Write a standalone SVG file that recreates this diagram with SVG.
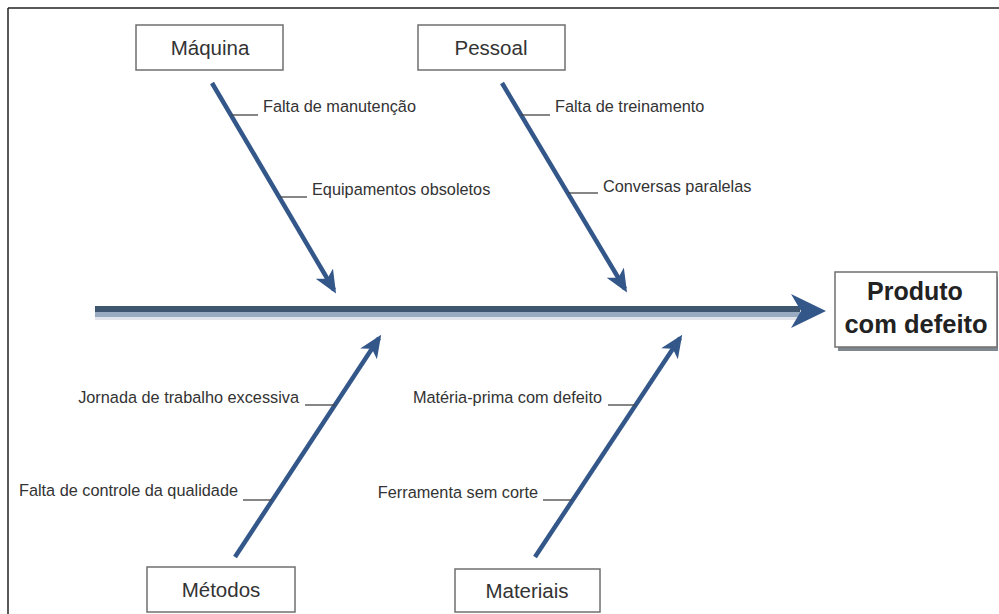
<svg xmlns="http://www.w3.org/2000/svg" width="999" height="614" viewBox="0 0 999 614">
<defs>
<style>
.box{fill:#fff;stroke:#6f6f6f;stroke-width:1.5}
.lbl{font-family:"Liberation Sans",Arial,sans-serif;font-size:20.5px;fill:#333;text-anchor:middle}
.cause{font-family:"Liberation Sans",Arial,sans-serif;font-size:16.3px;fill:#333}
.tick{stroke:#444;stroke-width:1.3}
.bone{stroke:#34578a;stroke-width:4.5;fill:none;marker-end:url(#head)}
.frame{stroke:#222;stroke-width:1.5}
</style>
<marker id="head" markerUnits="userSpaceOnUse" markerWidth="26" markerHeight="22" refX="19" refY="10" orient="auto" viewBox="0 0 26 22">
<path d="M0,0 L23,10 L0,20 L6,10 Z" fill="#34578a"/>
</marker>
</defs>
<rect x="0" y="0" width="999" height="614" fill="#fff"/>
<g id="frame">
<line class="frame" x1="8" y1="8" x2="999" y2="8"/>
<line class="frame" x1="8" y1="8" x2="8" y2="614"/>
</g>
<g id="connectors">
<rect x="95" y="317" width="705" height="3" fill="#e2e6eb"/>
<rect x="95" y="306" width="705" height="6" fill="#3e5670"/>
<rect x="95" y="312" width="705" height="5" fill="#98abc1"/>
<polygon points="791,294 826,311 791,328 801,311" fill="#34578a"/>
<line class="bone" x1="212" y1="83" x2="334" y2="290"/>
<line class="bone" x1="502" y1="83" x2="625" y2="289"/>
<line class="bone" x1="235" y1="557" x2="379" y2="338"/>
<line class="bone" x1="535" y1="557" x2="680" y2="338"/>
<line class="tick" x1="231" y1="115" x2="258" y2="115"/>
<line class="tick" x1="280" y1="197" x2="307" y2="197"/>
<line class="tick" x1="521" y1="115" x2="550" y2="115"/>
<line class="tick" x1="568" y1="193" x2="598" y2="193"/>
<line class="tick" x1="305" y1="405" x2="335" y2="405"/>
<line class="tick" x1="243" y1="500" x2="272" y2="500"/>
<line class="tick" x1="608" y1="405" x2="635" y2="405"/>
<line class="tick" x1="543" y1="500" x2="572" y2="500"/>
</g>
<g id="maquina">
<rect class="box" x="136" y="25" width="147" height="45"/>
<text class="lbl" x="210" y="55">Máquina</text>
</g>
<g id="pessoal">
<rect class="box" x="418" y="25" width="147" height="45"/>
<text class="lbl" x="491" y="55">Pessoal</text>
</g>
<g id="metodos">
<rect class="box" x="147" y="567" width="148" height="45"/>
<text class="lbl" x="221" y="597">Métodos</text>
</g>
<g id="materiais">
<rect class="box" x="455" y="569" width="145" height="43"/>
<text class="lbl" x="527" y="598">Materiais</text>
</g>
<g id="produto">
<rect x="838" y="277" width="160" height="74" fill="#4a5560" opacity="0.7"/>
<rect class="box" x="835" y="272" width="162" height="75"/>
<text x="915" y="300" font-family="Liberation Sans,Arial,sans-serif" font-size="25" font-weight="bold" fill="#222" text-anchor="middle">Produto</text>
<text x="916" y="333" font-family="Liberation Sans,Arial,sans-serif" font-size="25.5" font-weight="bold" fill="#222" text-anchor="middle">com defeito</text>
</g>
<g id="causes">
<text class="cause" x="263" y="112">Falta de manutenção</text>
<text class="cause" x="312" y="195">Equipamentos obsoletos</text>
<text class="cause" x="555" y="112">Falta de treinamento</text>
<text class="cause" x="603" y="192">Conversas paralelas</text>
<text class="cause" x="299" y="403" text-anchor="end">Jornada de trabalho excessiva</text>
<text class="cause" x="238" y="496" text-anchor="end">Falta de controle da qualidade</text>
<text class="cause" x="602" y="403" text-anchor="end">Matéria-prima com defeito</text>
<text class="cause" x="538" y="498" text-anchor="end">Ferramenta sem corte</text>
</g>
</svg>
